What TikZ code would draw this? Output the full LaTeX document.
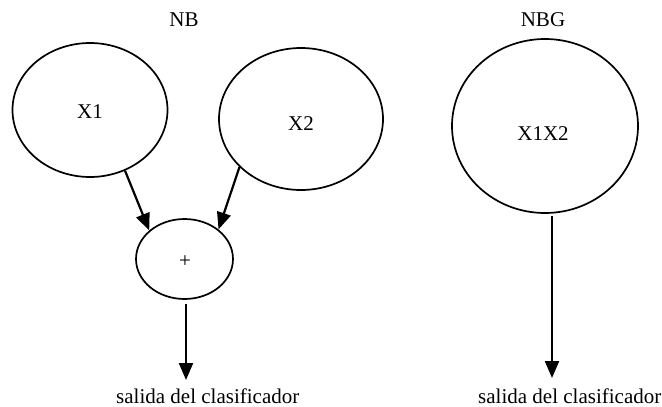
\documentclass[tikz,border=0pt]{standalone}
\usepackage{fontspec}
\setmainfont{Liberation Serif}
\usetikzlibrary{shapes.geometric,arrows.meta}
\begin{document}
\begin{tikzpicture}[x=1pt,y=-1pt,
  every node/.style={font=\fontsize{21}{25}\selectfont},
  bubble/.style={draw,ellipse,line width=1.7pt,inner sep=0pt},
  txt/.style={inner sep=0pt,anchor=base},
  arr/.style={line width=2.2pt,-{Triangle[length=17pt,width=14pt]}}]
\useasboundingbox (0,0) rectangle (662,407);

% naive Bayes network
\node[txt] (nb) at (184,26) {NB};
\node[bubble,minimum width=155pt,minimum height=134pt] (x1) at (90,110) {};
\node[txt] (x1t) at (90,118) {X1};
\node[bubble,minimum width=164pt,minimum height=142pt] (x2) at (301,119) {};
\node[txt] (x2t) at (301,130) {X2};
\node[bubble,minimum width=97pt,minimum height=80pt] (plus) at (184.5,259) {};
\node[inner sep=0pt] (plust) at (185,262) {+};
\coordinate (out1) at (186,380);
\node[txt,anchor=base west] (s1) at (116,403) {salida del clasificador};

\draw[arr] (x1.-60.5) -- (plus.141);
\draw[arr] (x2.-142) -- (plus.41);
\draw[arr] ([yshift=-4pt]plus.south -| out1) -- (out1);

% joint (grouped) network
\node[txt] (nbg) at (543,26.5) {NBG};
\node[bubble,minimum width=186pt,minimum height=174pt] (x12) at (545,126) {};
\node[txt] (x12t) at (543,140) {X1X2};
\coordinate (out2) at (552,378);
\node[txt,anchor=base west] (s2) at (478,403) {salida del clasificador};

\draw[arr] (552,216) -- (out2);
\end{tikzpicture}
\end{document}
